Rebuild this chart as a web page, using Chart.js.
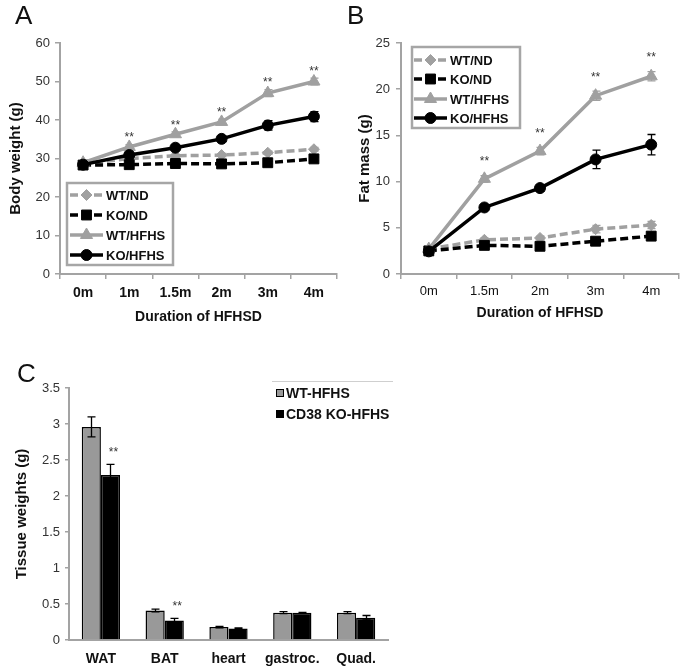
<!DOCTYPE html>
<html><head><meta charset="utf-8">
<script src="https://cdn.jsdelivr.net/npm/chart.js@4.4.0/dist/chart.umd.min.js"></script>
<style>
html,body{margin:0;padding:0;background:#fff;width:687px;height:671px;overflow:hidden;}
#wrap{position:relative;width:687px;height:671px;}
canvas{position:absolute;}
.lbl{position:absolute;font-family:"Liberation Sans",Arial,sans-serif;font-size:26px;line-height:1;color:#111;}
</style></head><body>
<div id="wrap">
<canvas id="cA" width="345" height="330" style="left:0;top:0"></canvas>
<canvas id="cB" width="342" height="330" style="left:345px;top:0"></canvas>
<canvas id="cC" width="420" height="341" style="left:0;top:330px"></canvas>
<div class="lbl" style="left:15px;top:2px">A</div>
<div class="lbl" style="left:347px;top:2px">B</div>
<div class="lbl" style="left:17px;top:360px">C</div>
</div>
<script>
// ---------- Panel A: body weight ----------
const timeA = ['0m','1m','1.5m','2m','3m','4m'];
const wtNDA = [28.5,30.0,30.7,30.9,31.5,32.4];
const koNDA = [28.3,28.4,28.7,28.6,28.9,29.9];
const wtHFA = [28.9,33.0,36.3,39.5,47.0,50.0];
const koHFA = [28.4,30.9,32.8,35.1,38.6,40.9];
const errWtNDA = [0.4,0.4,0.4,0.4,0.4,0.5];
const errKoNDA = [0.4,0.4,0.4,0.4,0.4,0.5];
const errWtHFA = [0.5,0.6,0.6,0.7,0.9,0.9];
const errKoHFA = [0.5,0.5,0.6,0.7,1.2,1.3];
const sigA = ['','**','**','**','**','**'];
const ticksA = {min:0, max:60, step:10};

// ---------- Panel B: fat mass ----------
const timeB = ['0m','1.5m','2m','3m','4m'];
const wtNDB = [2.7,3.7,3.9,4.85,5.3];
const koNDB = [2.5,3.1,3.0,3.55,4.1];
const wtHFB = [2.7,10.3,13.3,19.3,21.4];
const koHFB = [2.45,7.2,9.3,12.4,14.0];
const errWtNDB = [0.2,0.2,0.2,0.4,0.4];
const errKoNDB = [0.2,0.2,0.2,0.3,0.4];
const errWtHFB = [0.2,0.35,0.4,0.5,0.5];
const errKoHFB = [0.2,0.3,0.35,1.0,1.1];
const sigB = ['','**','**','**','**'];
const ticksB = {min:0, max:25, step:5};

// ---------- Panel C: tissue weights ----------
const tissues = ['WAT','BAT','heart','gastroc.','Quad.'];
const wtC = [2.96,0.41,0.18,0.38,0.38];
const koC = [2.29,0.27,0.16,0.38,0.31];
const errWtC = [0.14,0.02,0.01,0.015,0.015];
const errKoC = [0.15,0.03,0.008,0.005,0.03];
const sigC = ['**','**','','',''];
const ticksC = {min:0, max:3.5, step:0.5};

const F = '"Liberation Sans", Arial, sans-serif';
const GRAY = '#a0a0a0';
const AXIS = '#a3a3a3';
Chart.defaults.font.family = F;

function drawMarker(ctx, style, r, x, y){
  if (Chart.helpers && Chart.helpers.drawPoint) {
    Chart.helpers.drawPoint(ctx, {pointStyle:style, radius:r, rotation:0, borderWidth:1}, x, y);
    return;
  }
  ctx.beginPath();
  if (style==='circle') ctx.arc(x,y,r,0,Math.PI*2);
  else if (style==='rect'){ const s=r*Math.SQRT1_2; ctx.rect(x-s,y-s,2*s,2*s); }
  else if (style==='rectRot'){ ctx.moveTo(x,y-r);ctx.lineTo(x+r,y);ctx.lineTo(x,y+r);ctx.lineTo(x-r,y);ctx.closePath(); }
  else { ctx.moveTo(x,y-r); ctx.lineTo(x+r*0.866,y+r/2); ctx.lineTo(x-r*0.866,y+r/2); ctx.closePath(); }
  ctx.fill(); ctx.stroke();
}

const errorBars = {
  id:'errorBars',
  _draw(chart, o){
    const ctx = chart.ctx, yS = chart.scales.y;
    chart.data.datasets.forEach((ds,i)=>{
      if(!ds.errors) return;
      const meta = chart.getDatasetMeta(i);
      ctx.save();
      ctx.strokeStyle = ds.errorColor || ds.borderColor;
      ctx.lineWidth = o.width || 1.2;
      ctx.setLineDash([]);
      const cap = o.cap || 4;
      meta.data.forEach((el,j)=>{
        const v = ds.data[j], e = ds.errors[j];
        if(!e) return;
        const x = Math.round(el.x)+0.5, y1 = yS.getPixelForValue(v+e), y2 = yS.getPixelForValue(v-e);
        ctx.beginPath();
        ctx.moveTo(x,y1); ctx.lineTo(x,y2);
        ctx.moveTo(x-cap,y1); ctx.lineTo(x+cap,y1);
        ctx.moveTo(x-cap,y2); ctx.lineTo(x+cap,y2);
        ctx.stroke();
      });
      ctx.restore();
    });
  },
  beforeDatasetsDraw(chart,args,o){ if(o && o.enabled && o.when==='before') this._draw(chart,o); },
  afterDatasetsDraw(chart,args,o){ if(o && o.enabled && o.when!=='before') this._draw(chart,o); }
};

const sigMarks = {
  id:'sigMarks',
  afterDatasetsDraw(chart,args,o){
    if(!o || !o.labels) return;
    const ctx = chart.ctx, yS = chart.scales.y;
    const ds = chart.data.datasets[o.ds], meta = chart.getDatasetMeta(o.ds);
    ctx.save();
    ctx.font = o.size + 'px ' + F;
    ctx.fillStyle = o.color;
    ctx.textAlign = 'center';
    ctx.textBaseline = 'alphabetic';
    o.labels.forEach((t,j)=>{
      if(!t) return;
      const v = ds.data[j] + (ds.errors ? ds.errors[j] : 0);
      const cy = yS.getPixelForValue(v) - o.gap;
      ctx.fillText(t, meta.data[j].x + (o.dx||0), cy + 0.57*o.size);
    });
    ctx.restore();
  }
};

const boxLegend = {
  id:'boxLegend',
  afterDraw(chart,args,o){
    if(!o || !o.rows) return;
    const ctx = chart.ctx;
    ctx.save();
    if(o.box){
      ctx.fillStyle = '#fff';
      ctx.fillRect(o.box.x,o.box.y,o.box.w,o.box.h);
      ctx.strokeStyle = o.box.color; ctx.lineWidth = o.box.lw;
      ctx.strokeRect(o.box.x,o.box.y,o.box.w,o.box.h);
    }
    if(o.rule){
      ctx.strokeStyle = o.rule.color; ctx.lineWidth = 1;
      ctx.beginPath(); ctx.moveTo(o.rule.x0,o.rule.y+0.5); ctx.lineTo(o.rule.x1,o.rule.y+0.5); ctx.stroke();
    }
    o.rows.forEach(r=>{
      const ds = chart.data.datasets[r.ds];
      if(o.kind==='line'){
        ctx.strokeStyle = ds.borderColor; ctx.lineWidth = ds.borderWidth;
        ctx.setLineDash(ds.borderDash || []);
        ctx.beginPath(); ctx.moveTo(o.x0,r.y); ctx.lineTo(o.x1,r.y); ctx.stroke();
        ctx.setLineDash([]);
        ctx.fillStyle = ds.pointBackgroundColor; ctx.strokeStyle = ds.pointBorderColor; ctx.lineWidth = 1;
        drawMarker(ctx, ds.pointStyle, ds.pointRadius, (o.x0+o.x1)/2, r.y);
      } else {
        ctx.fillStyle = ds.backgroundColor;
        ctx.fillRect(o.sx, r.y - o.size/2, o.size, o.size);
        ctx.strokeStyle = '#000'; ctx.lineWidth = 1;
        ctx.strokeRect(o.sx+0.5, r.y - o.size/2 + 0.5, o.size-1, o.size-1);
      }
      ctx.fillStyle = o.color;
      ctx.font = 'bold ' + o.size2 + 'px ' + F;
      ctx.textBaseline = 'middle'; ctx.textAlign = 'left';
      ctx.fillText(ds.label, o.tx, r.y + 1);
    });
    ctx.restore();
  }
};

Chart.register(errorBars, sigMarks, boxLegend);

function lineDatasets(wtND, koND, wtHF, koHF, eWtND, eKoND, eWtHF, eKoHF){
  return [
    {label:'WT/ND', data:wtND, errors:eWtND, borderColor:GRAY, backgroundColor:GRAY, borderWidth:3.5, borderDash:[8,4],
     pointStyle:'rectRot', pointRadius:5.5, pointBackgroundColor:GRAY, pointBorderColor:GRAY, pointBorderWidth:1, order:4},
    {label:'KO/ND', data:koND, errors:eKoND, borderColor:'#000', backgroundColor:'#000', borderWidth:3.5, borderDash:[8,4],
     pointStyle:'rect', pointRadius:7, pointBackgroundColor:'#000', pointBorderColor:'#000', pointBorderWidth:1, order:3},
    {label:'WT/HFHS', data:wtHF, errors:eWtHF, borderColor:GRAY, backgroundColor:GRAY, borderWidth:3.5,
     pointStyle:'triangle', pointRadius:7, pointBackgroundColor:GRAY, pointBorderColor:GRAY, pointBorderWidth:1, order:2},
    {label:'KO/HFHS', data:koHF, errors:eKoHF, borderColor:'#000', backgroundColor:'#000', borderWidth:3.5,
     pointStyle:'circle', pointRadius:5.5, pointBackgroundColor:'#000', pointBorderColor:'#000', pointBorderWidth:1, order:1}
  ];
}

function yAxis(t, title, titlePad, width, tickPad, tickLen){
  return {
    min:t.min, max:t.max,
    ticks:{stepSize:t.step, color:'#333', font:{family:F, size:13}, padding:tickPad,
      callback:(v)=>String(Math.round(v*100)/100)},
    grid:{drawOnChartArea:false, drawTicks:true, tickLength:tickLen, color:AXIS, lineWidth:1.5},
    border:{display:true, color:AXIS, width:2},
    title:{display:true, text:title, color:'#111', font:{family:F, size:15, weight:'bold'}, padding:{top:titlePad, bottom:0}},
    afterFit(s){ s.width = width; }
  };
}

function xAxisLine(labelFont, height, tickPad, titlePadBottom){
  return {
    offset:true,
    grid:{offset:true, drawOnChartArea:false, drawTicks:true, tickLength:5, color:AXIS, lineWidth:1.5},
    border:{display:true, color:AXIS, width:2},
    ticks:{color:'#111', font:labelFont, padding:tickPad, maxRotation:0, autoSkip:false},
    title:{display:true, text:'Duration of HFHSD', color:'#111', font:{family:F, size:14, weight:'bold'}, padding:{top:0, bottom:titlePadBottom}},
    afterFit(s){ s.height = height; }
  };
}

// Panel A
new Chart(document.getElementById('cA'), {
  type:'line',
  data:{labels:timeA, datasets:lineDatasets(wtNDA,koNDA,wtHFA,koHFA,errWtNDA,errKoNDA,errWtHFA,errKoHFA)},
  options:{
    responsive:false, animation:false, devicePixelRatio:1,
    layout:{padding:{top:43, right:7, left:0, bottom:0}},
    scales:{
      x:xAxisLine({family:F, size:14, weight:'bold'}, 56, 6, 4),
      y:yAxis(ticksA, 'Body weight (g)', 7, 60, 5, 5)
    },
    plugins:{
      legend:{display:false}, tooltip:{enabled:false},
      errorBars:{enabled:true, when:'before', width:1.3, cap:4},
      sigMarks:{ds:2, labels:sigA, gap:10, size:12, color:'#333'},
      boxLegend:{kind:'line', box:{x:67, y:183, w:106, h:82, color:'#a6a6a6', lw:2.5},
        x0:70, x1:103, tx:106, size2:13, color:'#111',
        rows:[{ds:0,y:195},{ds:1,y:215},{ds:2,y:235},{ds:3,y:255}]}
    }
  }
});

// Panel B
new Chart(document.getElementById('cB'), {
  type:'line',
  data:{labels:timeB, datasets:lineDatasets(wtNDB,koNDB,wtHFB,koHFB,errWtNDB,errKoNDB,errWtHFB,errKoHFB)},
  options:{
    responsive:false, animation:false, devicePixelRatio:1,
    layout:{padding:{top:43, right:7, left:0, bottom:0}},
    scales:{
      x:xAxisLine({family:F, size:13}, 56, 5, 8),
      y:yAxis(ticksB, 'Fat mass (g)', 11, 56, 6, 5)
    },
    plugins:{
      legend:{display:false}, tooltip:{enabled:false},
      errorBars:{enabled:true, when:'before', width:1.3, cap:4},
      sigMarks:{ds:2, labels:sigB, gap:17, size:12, color:'#333'},
      boxLegend:{kind:'line', box:{x:67, y:47, w:108, h:81, color:'#a6a6a6', lw:2.5},
        x0:69, x1:102, tx:105, size2:13, color:'#111',
        rows:[{ds:0,y:60},{ds:1,y:79},{ds:2,y:99},{ds:3,y:118}]}
    }
  }
});

// Panel C
new Chart(document.getElementById('cC'), {
  type:'bar',
  data:{labels:tissues, datasets:[
    {label:'WT-HFHS', data:wtC, errors:errWtC, errorColor:'#000', backgroundColor:'#999999', borderColor:'#000', borderWidth:1.5, borderSkipped:'bottom', categoryPercentage:0.6, barPercentage:1.0},
    {label:'CD38 KO-HFHS', data:koC, errors:errKoC, errorColor:'#000', backgroundColor:'#000', borderColor:'#000', borderWidth:1.5, borderSkipped:'bottom', categoryPercentage:0.6, barPercentage:1.0}
  ]},
  options:{
    responsive:false, animation:false, devicePixelRatio:1,
    layout:{padding:{top:58, right:32, left:0, bottom:0}},
    scales:{
      x:{
        grid:{display:true, drawOnChartArea:false, drawTicks:false, color:AXIS},
        border:{display:true, color:AXIS, width:2},
        ticks:{color:'#111', font:{family:F, size:14, weight:'bold'}, padding:11, maxRotation:0, autoSkip:false},
        afterFit(s){ s.height = 31; }
      },
      y:yAxis(ticksC, 'Tissue weights (g)', 13, 69, 5, 4)
    },
    plugins:{
      legend:{display:false}, tooltip:{enabled:false},
      errorBars:{enabled:true, when:'after', width:1.3, cap:4},
      sigMarks:{ds:1, labels:sigC, gap:15, size:12, color:'#333', dx:3},
      boxLegend:{kind:'square', rule:{x0:272, x1:393, y:51, color:'#cfcfcf'},
        sx:276, size:8, tx:286, size2:14, color:'#111',
        rows:[{ds:0,y:63},{ds:1,y:84}]}
    }
  }
});
</script>
</body></html>
